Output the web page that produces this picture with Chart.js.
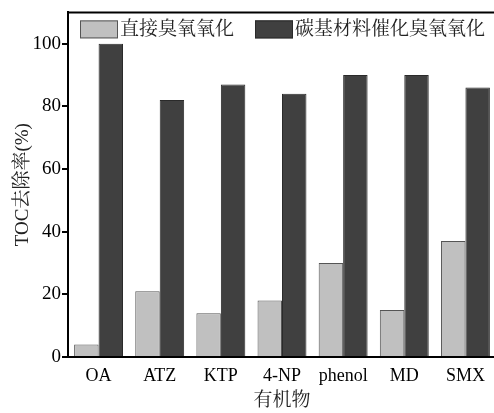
<!DOCTYPE html>
<html>
<head>
<meta charset="utf-8">
<script src="https://cdn.jsdelivr.net/npm/chart.js@4.4.1/dist/chart.umd.min.js"></script>
<style>
  html, body { margin: 0; padding: 0; background: #fff; overflow: hidden; }
  #wrap { width: 500px; height: 413px; }
</style>
</head>
<body>
<div id="wrap"><canvas id="chart" width="500" height="413"></canvas></div>
<script>
'use strict'

var categories = ['OA', 'ATZ', 'KTP', '4-NP', 'phenol', 'MD', 'SMX'];
var directValues = [4, 21, 14, 18, 30, 15, 37];
var catalyticValues = [100, 82, 87, 84, 90, 90, 86];
var seriesNames = ['直接臭氧氧化', '碳基材料催化臭氧氧化'];
var yTicks = [0, 20, 40, 60, 80, 100];

var serif = "'Liberation Serif', 'Noto Serif CJK SC', 'Noto Sans CJK SC', serif";

// legend drawn inside the plot, top edge, like the original figure
var innerLegend = {
  id: 'innerLegend',
  afterDraw: function(chart) {
    var ctx = chart.ctx;
    var area = chart.chartArea;
    ctx.save();
    // top frame line
    ctx.strokeStyle = '#000';
    ctx.lineWidth = 2;
    ctx.beginPath();
    ctx.moveTo(area.left, area.top);
    ctx.lineTo(area.right, area.top);
    ctx.stroke();

    var starts = [area.left + 12, area.left + 187];
    ctx.font = '19px ' + serif;
    ctx.textBaseline = 'middle';
    for (var i = 0; i < 2; i++) {
      var ds = chart.data.datasets[i];
      var x = starts[i];
      var y = area.top + 8;
      ctx.fillStyle = ds.backgroundColor;
      ctx.fillRect(x, y, 38, 18);
      ctx.strokeStyle = ds.borderColor;
      ctx.lineWidth = 1;
      ctx.strokeRect(x + 0.5, y + 0.5, 37, 17);
      ctx.fillStyle = '#222';
      ctx.fillText(ds.label, x + 40, y + 10);
    }
    ctx.restore();
  }
};

var canvas = document.getElementById('chart');
var ctx = canvas.getContext('2d');

var chart = new Chart(ctx, {
  type: 'bar',
  data: {
    labels: categories,
    datasets: [{
      label: seriesNames[0],
      data: directValues,
      backgroundColor: '#c0c0c0',
      borderColor: '#555555',
      borderWidth: 1
    }, {
      label: seriesNames[1],
      data: catalyticValues,
      backgroundColor: '#404040',
      borderColor: '#2a2a2a',
      borderWidth: 1
    }]
  },
  options: {
    responsive: false,
    animation: false,
    layout: {
      padding: { left: 0, right: 4, top: 12, bottom: 0 }
    },
    plugins: {
      legend: { display: false },
      tooltip: { enabled: false }
    },
    datasets: {
      bar: { categoryPercentage: 0.8, barPercentage: 1.0 }
    },
    scales: {
      x: {
        offset: true,
        grid: { display: false },
        border: { display: true, color: '#000', width: 2 },
        ticks: {
          color: '#000',
          padding: 0,
          font: { family: serif, size: 18 }
        },
        title: {
          display: true,
          text: '有机物',
          color: '#222',
          padding: { top: 0, bottom: 1 },
          font: { family: serif, size: 19 }
        },
        afterFit: function(scale) { scale.height = 56; }
      },
      y: {
        min: 0,
        max: 110,
        afterBuildTicks: function(scale) {
          scale.ticks = yTicks.map(function(v) { return { value: v }; });
        },
        grid: {
          drawOnChartArea: false,
          drawTicks: true,
          tickLength: 6,
          color: '#000',
          lineWidth: 2
        },
        border: { display: true, color: '#000', width: 2 },
        ticks: {
          color: '#000',
          padding: 1,
          font: { family: serif, size: 19 }
        },
        title: {
          display: true,
          text: 'TOC去除率(%)',
          color: '#222',
          padding: { top: 12, bottom: 0 },
          font: { family: serif, size: 19 }
        },
        afterFit: function(scale) { scale.width = 68; }
      }
    }
  },
  plugins: [innerLegend]
});
</script>
</body>
</html>
